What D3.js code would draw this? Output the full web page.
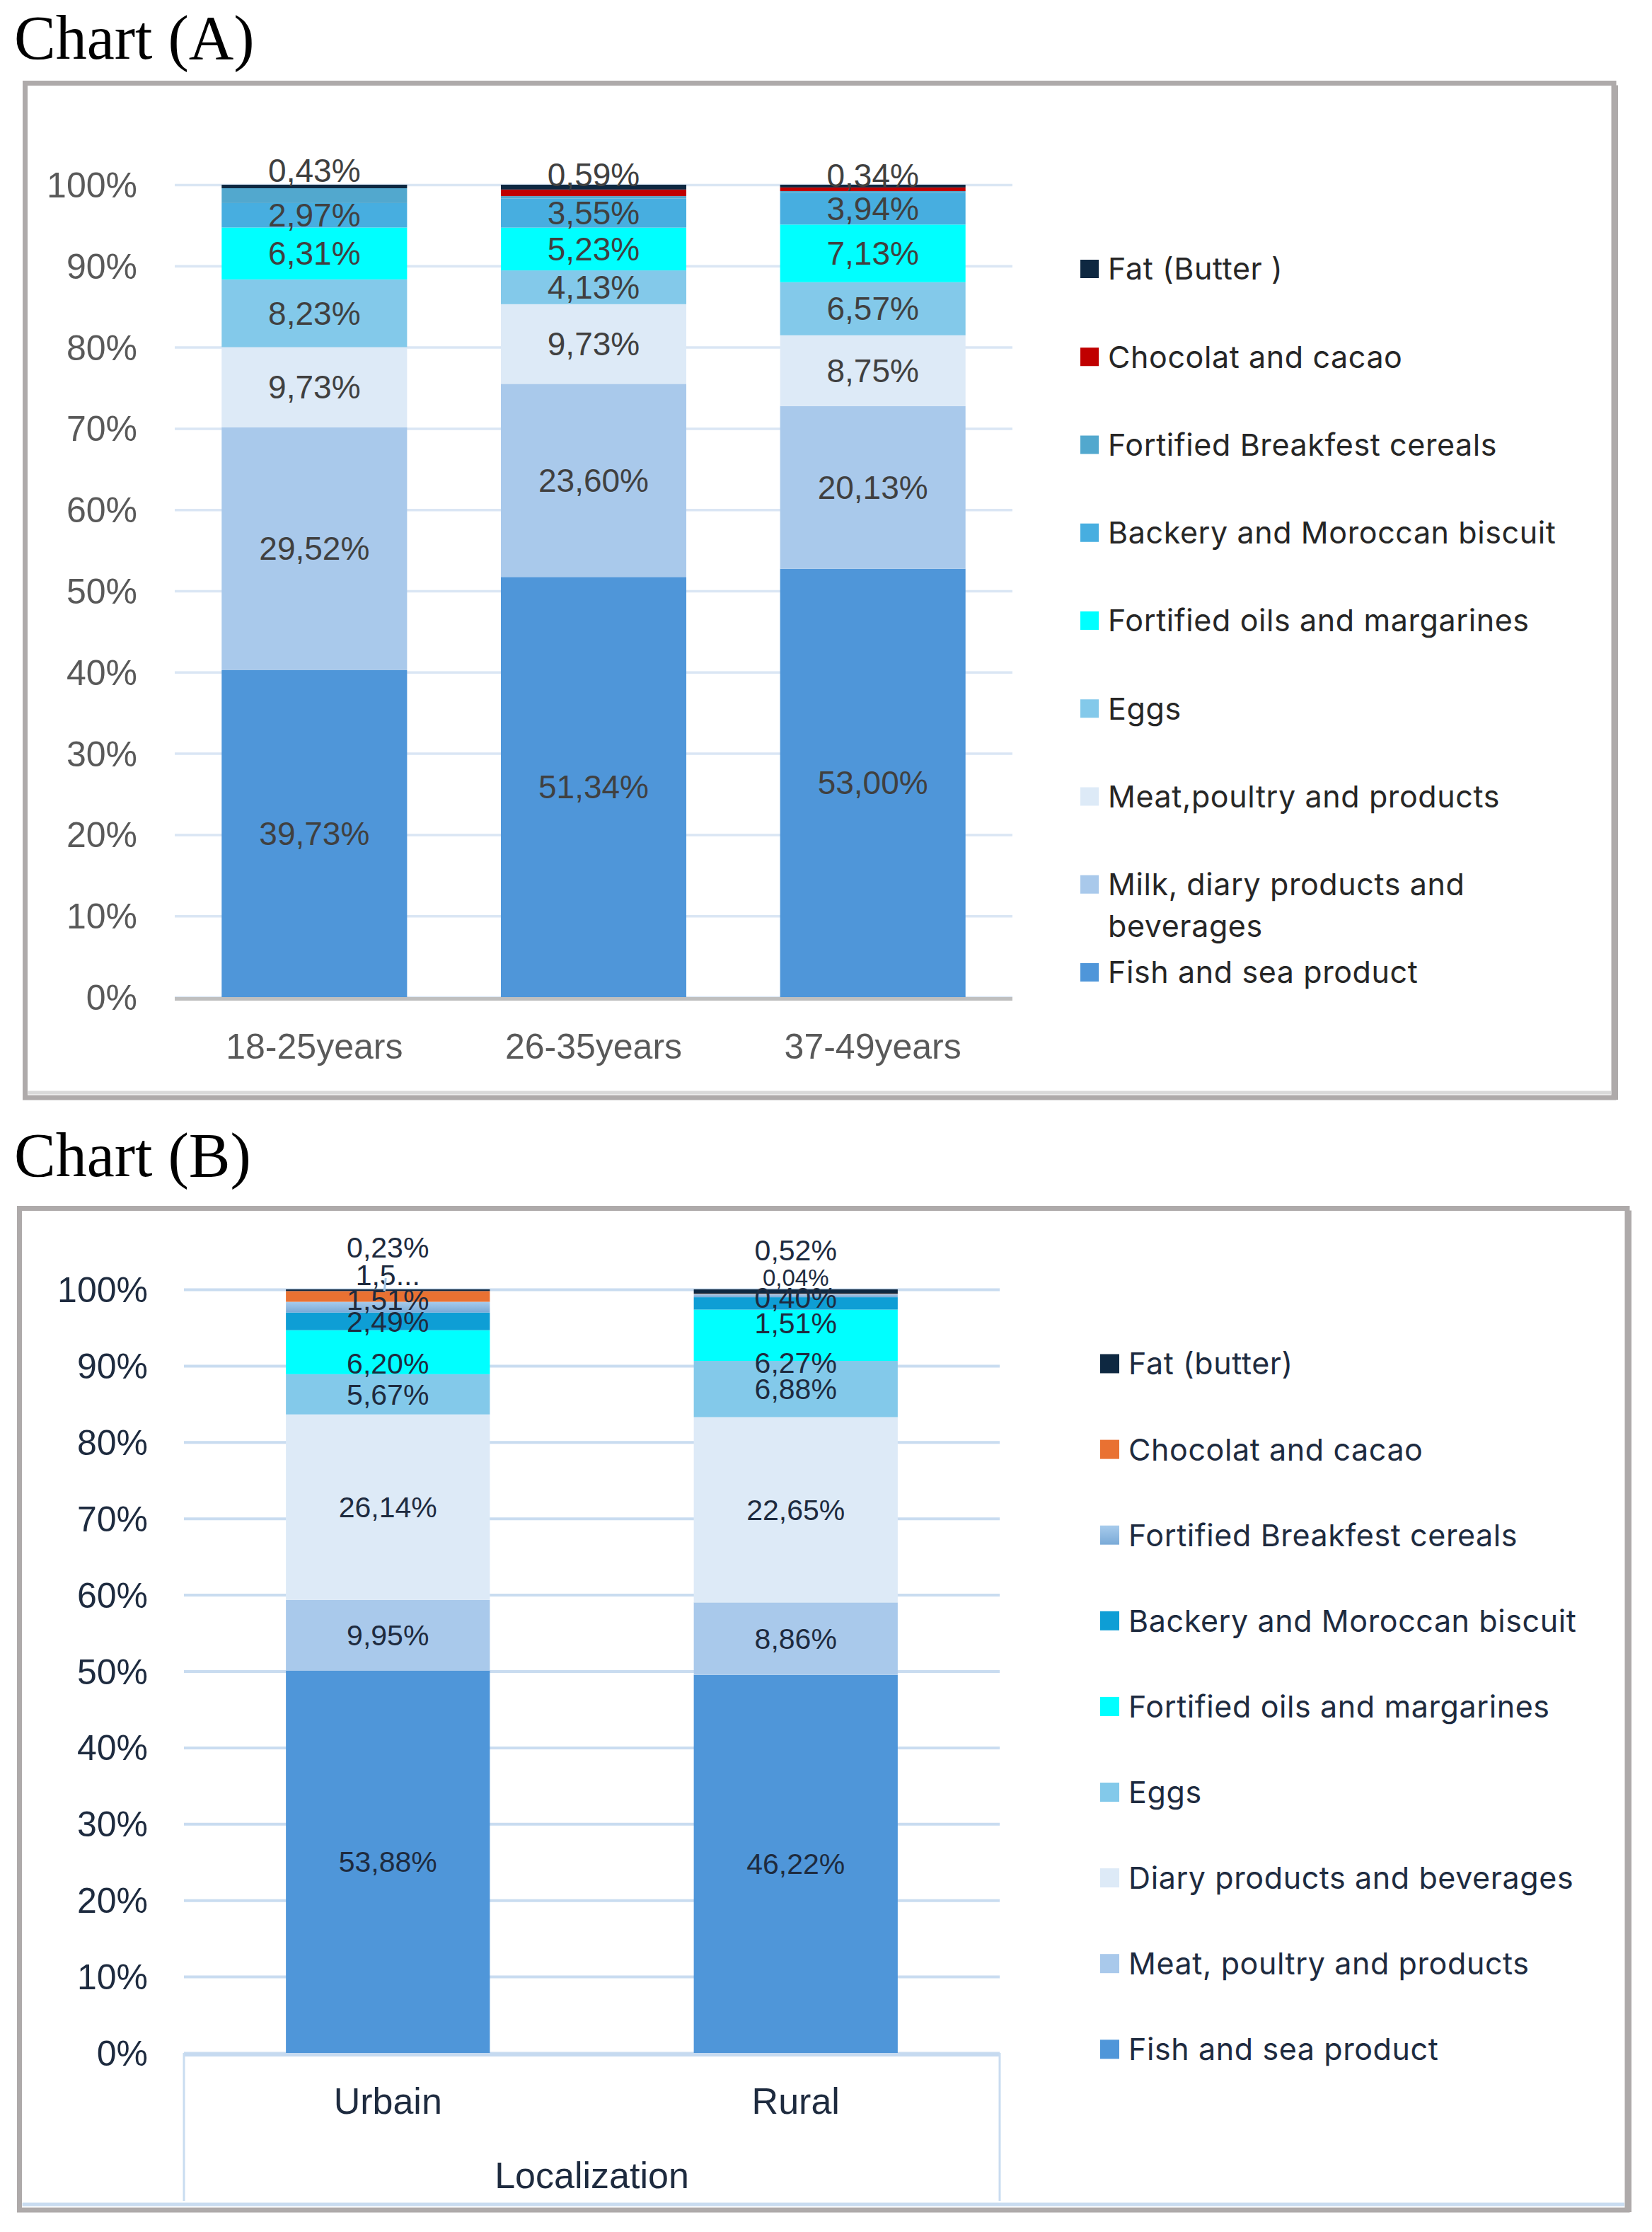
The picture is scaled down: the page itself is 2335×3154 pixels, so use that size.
<!DOCTYPE html>
<html>
<head>
	<meta charset="UTF-8">
	<title>Chart (A) and Chart (B)</title>
	<script type="text/javascript" src="https://cdn.jsdelivr.net/npm/d3@7"></script>
	<style>
		body { margin: 0; background: #fff; }
	</style>
</head>
<body>

<script type="text/javascript">
	var w = 2335;
	var h = 3154;

	// ---- chart A : age groups (bottom of the stack first)
	var categoriesA = ["18-25years", "26-35years", "37-49years"];
	var seriesA = ["Fish and sea product", "Milk, diary products and beverages", "Meat,poultry and products",
		"Eggs", "Fortified oils and margarines", "Backery and Moroccan biscuit",
		"Fortified Breakfest cereals", "Chocolat and cacao", "Fat (Butter )"];
	var fishA = [39.73, 51.34, 53.00];
	var milkA = [29.52, 23.60, 20.13];
	var meatA = [9.73, 9.73, 8.75];
	var eggsA = [8.23, 4.13, 6.57];
	var oilsA = [6.31, 5.23, 7.13];
	var bakeryA = [2.97, 3.55, 3.94];
	var cerealsA = [1.80, 0.30, 0.20];   // not labelled
	var chocolateA = [0, 0.80, 0.45];    // not labelled
	var fatA = [0.43, 0.59, 0.34];
	var hiddenLabelsA = ["Fortified Breakfest cereals", "Chocolat and cacao"];

	// ---- chart B : localization
	var categoriesB = ["Urbain", "Rural"];
	var groupB = "Localization";
	var seriesB = ["Fish and sea product", "Meat, poultry and products", "Diary products and beverages",
		"Eggs", "Fortified oils and margarines", "Backery and Moroccan biscuit",
		"Fortified Breakfest cereals", "Chocolat and cacao", "Fat (butter)"];
	var fishB = [53.88, 46.22];
	var meatB = [9.95, 8.86];
	var diaryB = [26.14, 22.65];
	var eggsB = [5.67, 6.88];
	var oilsB = [6.20, 6.27];
	var bakeryB = [2.49, 1.51];
	var cerealsB = [1.51, 0.40];
	var chocolateB = [1.52, 0.04];       // urbain label is cut off ("1,5...")
	var fatB = [0.23, 0.52];

	var yTicks = [0, 0.1, 0.2, 0.3, 0.4, 0.5, 0.6, 0.7, 0.8, 0.9, 1];

	var svg = d3.select("body")
				.append("svg")
				.attr("width", w)
				.attr("height", h);

	var defs = svg.append("defs");
	var grad = defs.append("linearGradient")
				.attr("id", "cerealGrad")
				.attr("x1", 0).attr("y1", 0).attr("x2", 0).attr("y2", 1);
	grad.append("stop").attr("offset", "0%").attr("stop-color", "#A7CBEC");
	grad.append("stop").attr("offset", "100%").attr("stop-color", "#7AAAD7");

	var pct = function(v){ return d3.format(".2f")(v).replace(".", ",") + "%"; };

	function frame(x0, y0, x1, y1, innerColor, innerY){
		svg.append("rect")
			.attr("x", x0).attr("y", y0)
			.attr("width", x1 - x0).attr("height", y1 - y0)
			.attr("fill", "none")
			.attr("stroke", "#AEAAAA")
			.attr("stroke-width", 7);
		svg.append("line")
			.attr("x1", x0 + 4).attr("x2", x1 - 4)
			.attr("y1", innerY).attr("y2", innerY)
			.attr("stroke", innerColor)
			.attr("stroke-width", 5);
		svg.append("line")
			.attr("x1", x1 + 4).attr("x2", x1 + 4)
			.attr("y1", y0 + 3).attr("y2", y1 + 3)
			.attr("stroke", "#AEAAAA")
			.attr("stroke-width", 4);
	}

	function title(txt, yBase){
		svg.append("text")
			.attr("x", 20)
			.attr("y", yBase)
			.attr("font-family", "'Liberation Serif', 'DejaVu Serif', serif")
			.attr("font-size", 88)
			.attr("fill", "#000")
			.text(txt);
	}

	function wrapLegend(text, maxW, lineH){
		text.each(function(){
			var t = d3.select(this);
			var words = t.text().split(" ");
			var xx = t.attr("x");
			t.text(null);
			var line = [];
			var ts = t.append("tspan").attr("x", xx);
			words.forEach(function(word){
				line.push(word);
				ts.text(line.join(" "));
				if (ts.node().getComputedTextLength() > maxW && line.length > 1) {
					line.pop();
					ts.text(line.join(" "));
					line = [word];
					ts = t.append("tspan").attr("x", xx).attr("dy", lineH).text(word);
				}
			});
		});
	}

	function plot(p){
		var chart = svg.append("g");

		var x = d3.scaleBand()
				.domain(p.categories)
				.range([p.left, p.right])
				.paddingInner(p.pad)
				.paddingOuter(p.pad / 2);

		var y = d3.scaleLinear()
				.domain([0, 1])
				.range([p.bottom, p.top]);

		var rows = p.categories.map(function(c, i){
			var r = {cat: c};
			p.series.forEach(function(s, k){ r[s] = p.values[k][i]; });
			return r;
		});

		var stacked = d3.stack()
				.keys(p.series)
				.offset(d3.stackOffsetExpand)(rows);

		// gridlines + percent ticks
		var yAxis = chart.append("g")
				.attr("transform", "translate(" + p.left + ",0)")
				.call(d3.axisLeft(y)
					.tickValues(yTicks)
					.tickFormat(d3.format(".0%"))
					.tickSize(-(p.right - p.left))
					.tickPadding(p.left - p.tickX));
		yAxis.select(".domain").remove();
		yAxis.selectAll(".tick line")
			.attr("stroke", p.gridColor)
			.attr("stroke-width", p.gridWidth);
		yAxis.selectAll(".tick text")
			.attr("font-family", "'Liberation Sans', Arial, sans-serif")
			.attr("font-size", 50)
			.attr("fill", p.tickColor)
			.attr("dy", "0.35em");

		// bars
		chart.selectAll(".layer")
			.data(stacked)
			.enter()
			.append("g")
			.attr("fill", function(d, i){ return p.colors[i]; })
			.selectAll("rect")
			.data(function(d){ return d; })
			.enter()
			.append("rect")
			.attr("x", function(d){ return x(d.data.cat); })
			.attr("y", function(d){ return y(d[1]); })
			.attr("width", x.bandwidth())
			.attr("height", function(d){ return y(d[0]) - y(d[1]); });

		// base line
		chart.append("line")
			.attr("x1", p.left).attr("x2", p.right)
			.attr("y1", p.bottom + 2.5).attr("y2", p.bottom + 2.5)
			.attr("stroke", p.baseColor)
			.attr("stroke-width", 5);

		// category labels
		chart.selectAll(".cat")
			.data(p.categories)
			.enter()
			.append("text")
			.attr("x", function(d){ return x(d) + x.bandwidth() / 2; })
			.attr("y", p.catY)
			.attr("text-anchor", "middle")
			.attr("font-family", "'Liberation Sans', Arial, sans-serif")
			.attr("font-size", p.catSize)
			.attr("fill", p.tickColor)
			.text(function(d){ return d; });

		// data labels
		stacked.forEach(function(layer){
			if (p.hidden.indexOf(layer.key) >= 0) return;
			layer.forEach(function(d, i){
				var nudge = (p.nudge[layer.key] || [])[i] || 0;
				var txt = (p.textOverride[layer.key] || [])[i] || pct(d.data[layer.key]);
				var size = (p.sizeOverride[layer.key] || [])[i] || p.labelSize;
				var cx = x(d.data.cat) + x.bandwidth() / 2;
				var cy = (y(d[0]) + y(d[1])) / 2 + nudge;
				chart.append("text")
					.attr("x", cx)
					.attr("y", cy)
					.attr("dy", "0.35em")
					.attr("text-anchor", "middle")
					.attr("font-family", "'Liberation Sans', Arial, sans-serif")
					.attr("font-size", size)
					.attr("fill", p.labelColor)
					.text(txt);
				if ((p.leader[layer.key] || [])[i]) {
					chart.append("line")
						.attr("x1", cx - 3).attr("y1", cy + 4)
						.attr("x2", cx - 5).attr("y2", y(d[1]))
						.attr("stroke", "#9DC3E6")
						.attr("stroke-width", 3);
				}
			});
		});

		// legend, top item = top of the stack
		var legendItems = p.series.slice().reverse();
		var lg = chart.selectAll(".legend")
			.data(legendItems)
			.enter()
			.append("g")
			.attr("transform", function(d, i){ return "translate(0," + (p.legendTop + i * p.legendStep) + ")"; });
		lg.append("rect")
			.attr("x", p.legendX)
			.attr("y", -p.legendBox / 2)
			.attr("width", p.legendBox)
			.attr("height", p.legendBox)
			.attr("fill", function(d){ return p.colors[p.series.indexOf(d)]; });
		lg.append("text")
			.attr("x", p.legendX + p.legendBox + 13)
			.attr("y", 0)
			.attr("dy", "0.36em")
			.attr("font-family", "Inter, 'Open Sans', sans-serif")
			.attr("font-size", 43)
			.attr("letter-spacing", 0.6)
			.attr("fill", p.legendColor)
			.text(function(d){ return d; })
			.call(wrapLegend, 670, 59);

		return {x: x, y: y, g: chart};
	}

	// ---------- Chart (A)
	title("Chart (A)", 83);
	frame(35.5, 117.5, 2281, 1551, "#D9D9D9", 1544);

	plot({
		categories: categoriesA,
		series: seriesA,
		values: [fishA, milkA, meatA, eggsA, oilsA, bakeryA, cerealsA, chocolateA, fatA],
		colors: ["#4F96D9", "#A9C9EB", "#DDEAF7", "#83C9EA", "#00FFFF", "#47AEE0", "#52A8CE", "#C00000", "#0E2841"],
		hidden: hiddenLabelsA,
		nudge: {"Fat (Butter )": [-23, -18, -15]},
		textOverride: {},
		sizeOverride: {},
		leader: {},
		left: 247, right: 1431, top: 261, bottom: 1409, pad: 0.336,
		tickX: 194,
		gridColor: "#DAE6F4", gridWidth: 3.5, baseColor: "#BFBFBF",
		tickColor: "#595959", catY: 1496, catSize: 50,
		labelColor: "#404040", labelSize: 46,
		legendX: 1527, legendTop: 380, legendStep: 124.25, legendBox: 26,
		legendColor: "#262626"
	});

	// ---------- Chart (B)
	title("Chart (B)", 1662);
	frame(27.5, 1707.5, 2300, 3123, "#C9DCF0", 3115);

	var b = plot({
		categories: categoriesB,
		series: seriesB,
		values: [fishB, meatB, diaryB, eggsB, oilsB, bakeryB, cerealsB, chocolateB, fatB],
		colors: ["#4F96D9", "#A9C9EB", "#DDEAF7", "#83C9EA", "#00FFFF", "#0E9ED5", "url(#cerealGrad)", "#E97132", "#0E2841"],
		hidden: [],
		nudge: {
			"Fat (butter)": [-61, -58],
			"Chocolat and cacao": [-30, -23],
			"Fortified Breakfest cereals": [-10, 3],
			"Backery and Moroccan biscuit": [0, 28],
			"Fortified oils and margarines": [16, 39]
		},
		textOverride: {"Chocolat and cacao": ["1,5...", null]},
		sizeOverride: {"Chocolat and cacao": [null, 33]},
		leader: {"Chocolat and cacao": [true, false]},
		left: 260, right: 1413, top: 1822, bottom: 2901, pad: 0.5,
		tickX: 209,
		gridColor: "#C9DCF0", gridWidth: 4, baseColor: "#C6DAF0",
		tickColor: "#1E2B3F", catY: 2987, catSize: 52,
		labelColor: "#1E2B3F", labelSize: 41,
		legendX: 1555, legendTop: 1927, legendStep: 121.1, legendBox: 27,
		legendColor: "#1E2B3F"
	});

	// multi-level category box under chart B
	[260, 1413].forEach(function(xx){
		b.g.append("line")
			.attr("x1", xx).attr("x2", xx)
			.attr("y1", 2901).attr("y2", 3110)
			.attr("stroke", "#C9DCF0")
			.attr("stroke-width", 3);
	});
	b.g.append("text")
		.attr("x", (260 + 1413) / 2)
		.attr("y", 3092)
		.attr("text-anchor", "middle")
		.attr("font-family", "'Liberation Sans', Arial, sans-serif")
		.attr("font-size", 52)
		.attr("fill", "#1E2B3F")
		.text(groupB);
</script>

</body>
</html>
